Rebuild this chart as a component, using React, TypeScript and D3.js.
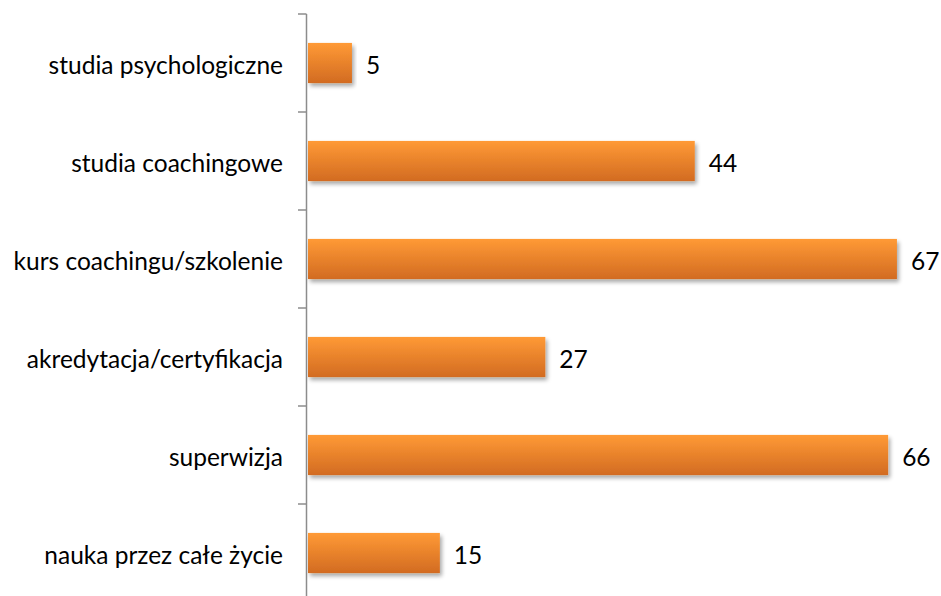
import React from "react";
import * as d3 from "d3";

const categories = [
  "studia psychologiczne",
  "studia coachingowe",
  "kurs coachingu/szkolenie",
  "akredytacja/certyfikacja",
  "superwizja",
  "nauka przez całe życie",
];
const values = [5, 44, 67, 27, 66, 15];

export default function App() {
  const W = 941, H = 596;
  const x = d3.scaleLinear().domain([0, 70]).range([308, 308 + 70 * 8.79]);
  const y = d3.scaleBand<string>().domain(categories).range([14, 602]).paddingInner(0.59).paddingOuter(0.295);
  const bandStep = y.step();
  const ticks = d3.range(categories.length + 1).map((i) => 14 + i * bandStep);
  const font = "Lato, 'Open Sans', sans-serif";
  return (
    <svg width={W} height={H} style={{ position: "absolute", left: 0, top: 0, background: "#fff" }}>
      <defs>
        <linearGradient id="barGrad" x1="0" y1="0" x2="0" y2="1">
          <stop offset="0%" stopColor="#FF9A35" />
          <stop offset="100%" stopColor="#D26B22" />
        </linearGradient>
        <filter id="shadow" x="-5%" y="-20%" width="115%" height="160%">
          <feGaussianBlur in="SourceAlpha" stdDeviation="2" />
          <feOffset dx="2" dy="3" result="b" />
          <feComponentTransfer><feFuncA type="linear" slope="0.35" /></feComponentTransfer>
          <feMerge><feMergeNode /><feMergeNode in="SourceGraphic" /></feMerge>
        </filter>
      </defs>
      <line x1={306.5} x2={306.5} y1={14} y2={H} stroke="#8c8c8c" strokeWidth={1.5} />
      {ticks.map((t, i) => (
        <line key={i} x1={298} x2={306.5} y1={t} y2={t} stroke="#8c8c8c" strokeWidth={1.5} />
      ))}
      {categories.map((c, i) => {
        const yy = y(c)!;
        const bh = y.bandwidth();
        return (
          <g key={c}>
            <rect x={x(0)} y={yy} width={x(values[i]) - x(0)} height={bh} fill="url(#barGrad)" filter="url(#shadow)" />
            <text x={283} y={yy + bh / 2 + 1} textAnchor="end" dominantBaseline="central" fontFamily={font} fontSize={24.5} fill="#000">{c}</text>
            <text x={x(values[i]) + 14} y={yy + bh / 2 + 1} dominantBaseline="central" fontFamily={font} fontSize={24.5} fill="#000">{values[i]}</text>
          </g>
        );
      })}
    </svg>
  );
}
